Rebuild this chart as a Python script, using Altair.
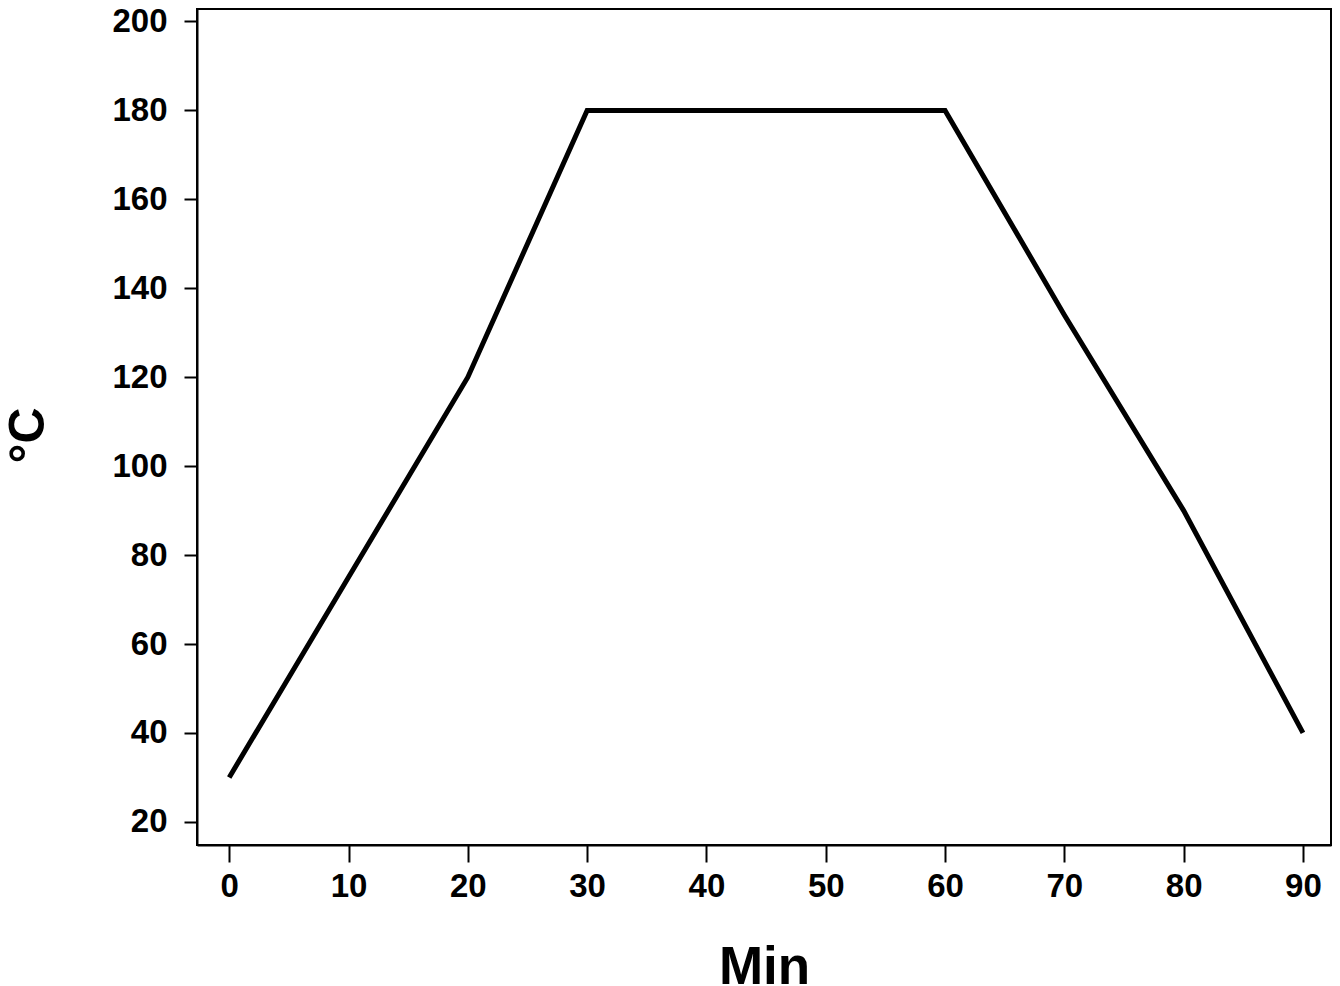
import altair as alt
import pandas as pd

minutes = [0, 10, 20, 30, 60, 70, 80, 90]
temps = [30, 75, 120, 180, 180, 134, 90, 40]
x_ticks = [0, 10, 20, 30, 40, 50, 60, 70, 80, 90]
y_ticks = [20, 40, 60, 80, 100, 120, 140, 160, 180, 200]

df = pd.DataFrame({"Min": minutes, "Temp": temps})

FONT = "Liberation Sans"
X_DOMAIN = [-2.7, 92.35]
Y_DOMAIN = [14.8, 204.6]

line = alt.Chart(df).mark_line(color="black", strokeWidth=5).encode(
    x=alt.X(
        "Min:Q",
        scale=alt.Scale(domain=X_DOMAIN, nice=False, zero=False),
        axis=alt.Axis(
            values=x_ticks, title="Min", grid=False,
            tickSize=17, tickWidth=2, tickColor="black",
            domainColor="black", domainWidth=2,
            labelFont=FONT, labelFontSize=33, labelFontWeight="bold", labelColor="black",
            labelPadding=8,
            titleFont=FONT, titleFontSize=53, titleFontWeight="bold", titleColor="black",
            titleBaseline="alphabetic", titleY=138,
        ),
    ),
    y=alt.Y(
        "Temp:Q",
        scale=alt.Scale(domain=Y_DOMAIN, nice=False, zero=False),
        axis=alt.Axis(
            values=y_ticks, title="°C", grid=False,
            tickSize=13, tickWidth=2, tickColor="black",
            domainColor="black", domainWidth=2,
            labelFont=FONT, labelFontSize=33, labelFontWeight="bold", labelColor="black",
            labelPadding=17,
            titleFont=FONT, titleFontSize=50, titleFontWeight="bold", titleColor="black",
            titleAngle=270, titleBaseline="alphabetic", titleAlign="center",
            titleX=-154, titleY=434,
        ),
    ),
)

# top edge of the frame (kept inside the visible page area)
top_edge = alt.Chart(df).mark_rule(color="black", strokeWidth=2).encode(
    x=alt.value(0), x2=alt.value(1134), y=alt.datum(202.8)
)

chart = alt.layer(line, top_edge).properties(
    width=1134,
    height=844,
    autosize=alt.AutoSizeParams(type="none"),
    padding={"left": 189, "top": -7, "right": 1, "bottom": 140},
).configure(
    background="white"
).configure_view(
    stroke="black", strokeWidth=2
)

chart.save("out.html", embed_options={"renderer": "svg", "actions": False})
